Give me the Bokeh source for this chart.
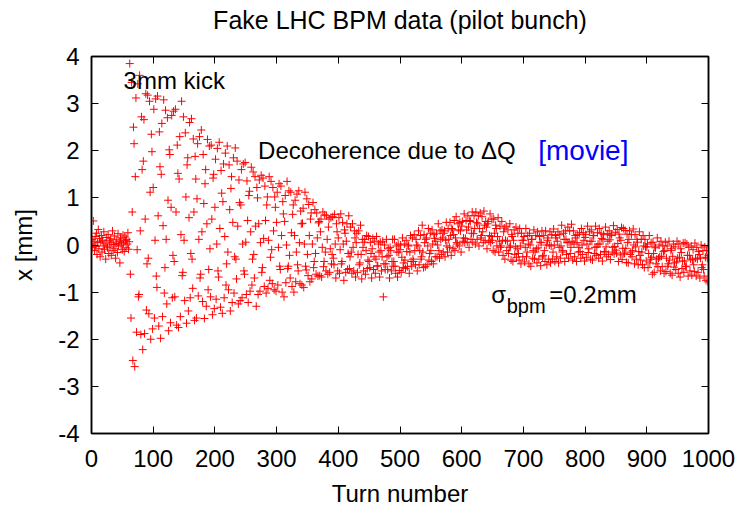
from bokeh.plotting import figure
from bokeh.models import Label, LinearAxis, FixedTicker, Range1d, ColumnDataSource, CustomJSTickFormatter
from bokeh.embed import file_html
from bokeh.resources import INLINE

FONT = "Liberation Sans"

title_text = "Fake LHC BPM data (pilot bunch)"
x_ticks = [0, 100, 200, 300, 400, 500, 600, 700, 800, 900, 1000]
y_ticks = [-4, -3, -2, -1, 0, 1, 2, 3, 4]

# BPM readings [mm], turns 0-61 (before kick)
x_pre = [
    0.02, 0.12, -0.05, 0.51, 0.08, -0.12, 0.18, -0.03, 0.25, -0.2,
    0.05, 0.33, -0.08, 0.14, -0.25, 0.07, 0.2, -0.15, 0.1, -0.02,
    0.28, -0.1, 0.04, -0.3, 0.16, 0.0, -0.06, 0.22, -0.18, 0.09,
    -0.04, 0.13, -0.22, 0.06, 0.3, -0.12, 0.01, 0.19, -0.08, -0.28,
    0.11, 0.03, -0.16, 0.24, -0.02, 0.08, -0.38, 0.15, 0.0, 0.06,
    -0.1, 0.21, 0.04, -0.14, 0.17, 0.09, -0.06, 0.12, 0.02, 0.26,
    -0.09, 0.07,
]

# turns 62-399 (after 3mm kick, decohering)
x_kick = [
    3.85, -0.62, -1.55, 3.45, 0.70, -2.45, 2.50, 2.15,
    -2.58, 1.45, 3.12, -1.85, -0.10, 3.42, -1.10, -1.05, 3.60, 0.30,
    -1.90, 2.72, 1.60, -2.22, 1.78, 2.66, -1.88, 0.55, 3.21, -1.38,
    -0.40, 3.18, -0.28, -1.46, 3.05, 1.12, -2.00, 2.35, 1.98, -1.78,
    1.22, 2.88, -1.55, 0.10, 3.10, -0.66, -0.90, 3.16, 0.62, -1.72,
    2.40, 1.66, -1.98, 1.50, 2.58, -1.52, 0.41, 3.08, -1.02, -0.48,
    2.86, 0.12, -1.25, 2.70, 0.95, -1.82, 2.02, 1.92, -1.65, 0.80,
    2.75, -1.12, -0.22, 2.84, -0.35, -1.10, 2.88, 0.70, -1.70, 2.12,
    1.52, -1.75, 1.40, 2.30, -1.52, 0.22, 3.05, -0.65, -0.58, 2.72,
    0.10, -1.18, 2.38, 1.02, -1.66, 1.70, 1.85, -1.40, 0.58, 2.60,
    -1.12, -0.18, 2.68, -0.30, -0.92, 2.25, 0.70, -1.60, 1.88, 1.40,
    -1.55, 0.98, 2.15, -1.08, 0.12, 2.30, -0.70, -0.62, 2.44, 0.28,
    -1.20, 1.92, 0.88, -1.56, 1.30, 1.60, -1.30, 0.45, 2.24, -0.95,
    -0.52, 2.10, -0.08, -1.10, 2.12, 0.55, -1.48, 1.42, 1.50, -1.35,
    0.80, 1.82, -1.15, 0.02, 2.05, -0.55, -0.68, 2.18, 0.35, -1.32,
    1.58, 1.10, -1.45, 0.92, 1.72, -1.12, 0.18, 1.95, -0.85, -0.40,
    2.10, -0.15, -0.95, 1.70, 0.75, -1.40, 1.20, 1.45, -1.22, 0.48,
    1.85, -1.02, -0.25, 2.06, -0.30, -0.72, 1.78, 0.40, -1.25, 1.38,
    0.90, -1.18, 0.85, 1.60, -1.12, 0.02, 1.72, -0.55, -0.62, 1.75,
    0.06, -1.05, 1.36, 0.52, -1.22, 1.05, 1.14, -0.98, 0.28, 1.65,
    -0.85, -0.30, 1.55, -0.20, -0.70, 1.45, 0.40, -1.30, 1.22, 1.00,
    -1.05, 0.45, 1.38, -0.98, 0.05, 1.48, -0.58, -0.48, 1.42, 0.14,
    -0.88, 1.25, 0.52, -1.02, 0.85, 1.02, -0.92, 0.10, 1.45, -0.75,
    -0.26, 1.35, -0.10, -0.82, 1.22, 0.30, -0.95, 1.02, 0.80, -0.98,
    0.48, 1.12, -0.85, -0.05, 1.30, -0.45, -0.52, 1.25, 0.20, -1.00,
    0.92, 0.66, -1.10, 0.50, 1.05, -0.80, 0.00, 1.35, -0.50, -0.45,
    1.15, -0.22, -0.70, 1.12, 0.26, -0.88, 0.65, 0.85, -1.00, 0.20,
    0.95, -0.78, -0.15, 1.08, -0.42, -0.55, 1.15, 0.05, -0.82, 0.72,
    0.45, -0.85, 0.46, 0.78, -0.90, 0.02, 1.12, -0.45, -0.53, 0.98,
    -0.20, -0.65, 0.86, 0.20, -0.78, 0.55, 0.68, -0.72, 0.02, 0.90,
    -0.48, -0.35, 0.75, -0.18, -0.62, 0.68, 0.15, -0.66, 0.47, 0.50,
    -0.65, 0.28, 0.55, -0.68, -0.05, 0.70, -0.46, -0.35, 0.64, -0.15,
    -0.55, 0.62, 0.12, -0.62, 0.38, 0.55, -0.58, -0.08, 0.58, -0.40,
    -0.20, 0.60, -0.28, -0.42, 0.65, 0.02, -0.70, 0.45, 0.28, -0.55,
]

# turns 400-1000
x_tail = [
    0.15, 0.58, -0.60, -0.10, 0.66, -0.40, -0.35, 0.48, 0.02, -0.75,
    0.32, 0.25, -0.58, 0.08, 0.45, -0.52, -0.18, 0.62, -0.50, -0.25,
    0.38, -0.15, -0.60, 0.45, -0.05, -0.55, 0.30, 0.15, -0.68, 0.05,
    0.25, -0.58, -0.20, 0.30, -0.42, -0.38, 0.42, -0.20, -0.72, 0.12,
    -0.05, -0.55, 0.06, 0.12, -0.62, -0.12, 0.20, -0.50, -0.32, 0.18,
    -0.35, -0.48, 0.05, -0.18, -0.70, -0.08, 0.14, -0.52, -0.25, 0.08,
    -0.60, -0.30, 0.18, -0.45, -0.44, 0.02, -0.15, -0.68, 0.06, -0.12,
    -0.55, -0.25, 0.08, -1.10, -0.40, 0.00, -0.52, -0.40, 0.12, -0.25,
    -0.52, -0.08, -0.22, -0.70, -0.05, -0.12, -0.55, -0.35, 0.12, -0.45,
    -0.35, 0.12, -0.45, -0.60, -0.02, -0.15, -0.68, 0.02, -0.15, -0.54,
    -0.10, 0.00, -0.58, -0.26, 0.15, -0.48, -0.38, 0.02, -0.32, -0.50,
    0.10, -0.14, -0.46, 0.00, -0.02, -0.60, -0.15, 0.20, -0.35, -0.45,
    0.15, -0.30, -0.35, 0.22, -0.12, -0.42, 0.12, 0.00, -0.55, -0.02,
    0.30, -0.42, -0.12, 0.20, -0.30, -0.25, 0.42, -0.15, -0.48, 0.22,
    0.05, -0.46, 0.12, 0.15, -0.42, -0.02, 0.35, -0.32, -0.18, 0.25,
    -0.12, -0.35, 0.32, 0.02, -0.40, 0.22, 0.14, -0.25, 0.08, 0.25,
    -0.25, 0.00, 0.45, -0.12, -0.28, 0.30, 0.12, -0.20, 0.32, 0.15,
    -0.15, 0.25, 0.30, -0.25, 0.10, 0.48, -0.02, -0.15, 0.35, 0.12,
    -0.05, 0.48, 0.20, -0.22, 0.35, 0.32, -0.08, 0.22, 0.52, -0.12,
    0.15, 0.60, 0.05, 0.02, 0.45, 0.32, -0.02, 0.48, 0.30, -0.15,
    0.40, 0.50, 0.08, 0.15, 0.66, 0.05, 0.14, 0.52, 0.32, 0.06,
    0.62, 0.38, -0.05, 0.52, 0.50, 0.12, 0.25, 0.70, 0.06, 0.24,
    0.62, 0.35, 0.02, 0.70, 0.48, 0.12, 0.45, 0.62, -0.02, 0.35,
    0.68, 0.15, 0.20, 0.60, 0.28, 0.05, 0.72, 0.42, 0.10, 0.50,
    0.38, -0.08, 0.45, 0.50, 0.08, 0.20, 0.66, 0.05, 0.18, 0.55,
    0.10, -0.12, 0.55, 0.25, -0.15, 0.42, 0.35, -0.02, 0.18, 0.58,
    -0.15, 0.08, 0.40, -0.05, -0.02, 0.50, 0.10, -0.22, 0.28, 0.36,
    -0.30, 0.10, 0.40, -0.12, 0.08, 0.32, -0.18, -0.05, 0.45, -0.02,
    -0.32, 0.22, 0.18, -0.35, 0.10, 0.32, -0.20, -0.04, 0.38, -0.26,
    -0.08, 0.25, -0.18, -0.32, 0.35, -0.02, -0.40, 0.25, 0.10, -0.25,
    0.10, 0.18, -0.36, -0.05, 0.35, -0.25, -0.15, 0.20, 0.02, -0.40,
    0.25, 0.00, -0.45, 0.12, 0.12, -0.28, -0.12, 0.32, -0.30, -0.15,
    0.20, -0.08, -0.38, 0.28, -0.06, -0.30, 0.18, 0.06, -0.44, 0.05,
    0.30, -0.25, -0.22, 0.20, -0.12, -0.35, 0.30, 0.00, -0.42, 0.10,
    0.15, -0.30, 0.00, 0.28, -0.38, -0.02, 0.22, -0.30, -0.15, 0.34,
    0.00, -0.35, 0.20, 0.15, -0.25, 0.08, 0.28, -0.38, -0.05, 0.22,
    -0.28, -0.02, 0.42, -0.15, -0.12, 0.25, 0.12, -0.35, 0.30, 0.12,
    -0.20, 0.05, 0.38, -0.28, 0.06, 0.30, -0.18, -0.05, 0.44, 0.08,
    -0.32, 0.30, 0.02, -0.25, 0.20, 0.15, -0.35, 0.05, 0.22, -0.15,
    -0.05, 0.26, -0.14, -0.28, 0.35, 0.00, -0.20, 0.26, 0.10, -0.34,
    0.16, 0.22, -0.26, 0.02, 0.40, -0.16, -0.08, 0.28, 0.08, -0.30,
    0.32, 0.08, -0.32, 0.20, 0.20, -0.18, -0.05, 0.40, -0.22, -0.04,
    0.26, 0.02, -0.28, 0.35, 0.02, -0.20, 0.25, 0.14, -0.34, 0.12,
    0.22, -0.14, -0.15, 0.38, -0.04, -0.25, 0.24, 0.08, -0.20, 0.30,
    0.11, -0.31, 0.20, 0.23, -0.15, -0.05, 0.41, -0.19, -0.03, 0.27,
    -0.11, -0.17, 0.33, 0.03, -0.35, 0.23, 0.15, -0.21, 0.10, 0.37,
    -0.31, -0.07, 0.35, -0.19, -0.17, 0.31, -0.07, -0.37, 0.23, 0.05,
    -0.38, 0.12, 0.30, -0.20, -0.15, 0.22, -0.25, -0.12, 0.34, 0.00,
    -0.40, 0.22, -0.04, -0.30, 0.12, 0.06, -0.42, -0.14, 0.28, -0.22,
    -0.32, 0.12, -0.15, -0.42, 0.20, -0.02, -0.48, 0.12, -0.04, -0.34,
    -0.04, 0.02, -0.48, -0.18, 0.20, -0.38, -0.30, 0.05, -0.26, -0.62,
    0.06, -0.18, -0.58, -0.04, -0.06, -0.40, -0.30, 0.15, -0.46, -0.28,
    0.00, -0.25, -0.55, 0.08, -0.24, -0.46, -0.02, -0.14, -0.60, -0.12,
    0.06, -0.56, -0.28, -0.02, -0.45, -0.40, 0.08, -0.32, -0.60, -0.12,
    -0.08, -0.64, -0.24, 0.02, -0.47, -0.38, -0.04, -0.52, -0.36, 0.08,
    -0.28, -0.60, 0.02, -0.26, -0.68, -0.08, -0.16, -0.50, -0.34, 0.04,
    -0.58, -0.34, 0.05, -0.46, -0.45, 0.02, -0.22, -0.66, -0.05, -0.22,
    -0.55, -0.30, -0.02, -0.64, -0.32, -0.10, -0.42, -0.56, 0.04, -0.28,
    -0.66, -0.05, -0.30, -0.58, -0.14, -0.20, -0.70, -0.28, 0.00, -0.48,
    -0.42, -0.12, -0.52, -0.66, -0.04, -0.26, -0.75, -0.12, -0.28, -0.78, -0.22,
]

x_mm = x_pre + x_kick + x_tail
turn = list(range(len(x_mm)))

source = ColumnDataSource(data=dict(turn=turn, x=x_mm))

p = figure(
    width=741, height=509,
    x_range=Range1d(0, 1000), y_range=Range1d(-4, 4),
    output_backend="svg", toolbar_location=None,
    min_border_left=91, min_border_right=33,
    min_border_top=56, min_border_bottom=75,
    x_axis_label="Turn number", y_axis_label="x [mm]",
)
p.background_fill_color = "white"
p.border_fill_color = "white"
p.grid.visible = False
p.outline_line_color = "black"
p.outline_line_width = 1.5

def style_axis(ax, ticks, show_labels):
    ax.ticker = FixedTicker(ticks=ticks)
    ax.major_tick_in = 7
    ax.major_tick_out = 0
    ax.minor_tick_in = 0
    ax.minor_tick_out = 0
    ax.axis_line_color = "black"
    ax.axis_line_width = 1.5
    ax.major_tick_line_color = "black"
    ax.major_tick_line_width = 1
    ax.major_label_text_font = FONT
    ax.major_label_text_color = "black"
    ax.major_label_text_font_size = "24px"
    if show_labels:
        ax.major_label_overrides = {t: str(t) for t in ticks}
    else:
        ax.formatter = CustomJSTickFormatter(code="return ''")
        ax.major_label_standoff = 0
    ax.axis_label_text_font = FONT
    ax.axis_label_text_font_size = "24px"
    ax.axis_label_text_font_style = "normal"
    ax.axis_label_text_color = "black"

xa = p.xaxis[0]
style_axis(xa, x_ticks, True)
xa.major_label_standoff = 16
xa.axis_label_standoff = 10

ya = p.yaxis[0]
style_axis(ya, y_ticks, True)
ya.major_label_standoff = 12
ya.axis_label_standoff = 18

# top axis carries the chart title as its label
top = LinearAxis(axis_label=title_text)
style_axis(top, x_ticks, False)
top.axis_label_text_font_size = "25px"
top.axis_label_standoff = 23
p.add_layout(top, "above")
right = LinearAxis()
style_axis(right, y_ticks, False)
p.add_layout(right, "right")

p.scatter("turn", "x", source=source, marker="cross", size=8,
          line_color="#ff0000", line_width=1)

def label(x, y, text, size="24px", color="black", align="left"):
    p.add_layout(Label(x=x, y=y, text=text, text_font=FONT, text_font_size=size,
                       text_color=color, text_baseline="alphabetic", text_align=align))

label(52, 3.49, "3mm kick")
label(270, 2.01, "Decoherence due to \u0394Q")
label(724, 2.01, "[movie]", size="28px", color="#0000ff")
label(648, -1.06, "\u03c3")
label(673, -1.30, "bpm", size="20px")
label(742, -1.06, "=0.2mm")

open("out.html", "w").write(file_html(p, INLINE))
